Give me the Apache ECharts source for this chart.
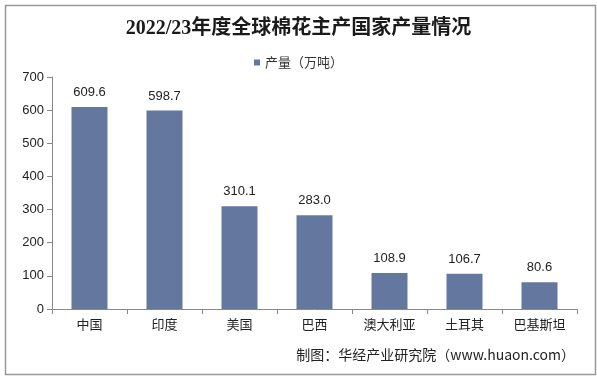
<!DOCTYPE html>
<html lang="zh">
<head>
  <meta charset="UTF-8">
  <title>2022/23年度全球棉花主产国家产量情况</title>
  <script src="https://cdn.jsdelivr.net/npm/echarts@6/dist/echarts.min.js"></script>
  <style>
    html, body { margin: 0; padding: 0; background: #fff; }
  </style>
</head>
<body>
<div id="main" style="width:597px;height:376px;"></div>
<script type="text/javascript">
  // 国家和产量（万吨）
  var countries = ['中国', '印度', '美国', '巴西', '澳大利亚', '土耳其', '巴基斯坦'];
  var output = [609.6, 598.7, 310.1, 283.0, 108.9, 106.7, 80.6];
  var yTicks = [0, 100, 200, 300, 400, 500, 600, 700];

  var myChart = echarts.init(document.getElementById('main'));

  var option = {
    backgroundColor: '#fff',
    animation: false,
    title: {
      text: '2022/23年度全球棉花主产国家产量情况',
      left: 'center',
      top: 14,
      textStyle: {
        fontFamily: '"Liberation Serif", "Noto Sans CJK SC", serif',
        fontSize: 20,
        fontWeight: 'bold',
        color: '#1a1a1a'
      }
    },
    legend: {
      data: ['产量（万吨）'],
      top: 51,
      left: 'center',
      itemWidth: 6,
      itemHeight: 6,
      itemGap: 4,
      icon: 'rect',
      textStyle: { fontSize: 13, color: '#333', fontFamily: '"Noto Sans CJK SC", sans-serif' }
    },
    grid: { left: 52, right: 20, top: 77, bottom: 67 },
    xAxis: {
      type: 'category',
      data: countries,
      axisLine: { lineStyle: { color: '#888' } },
      axisTick: { show: true, length: 5, alignWithLabel: false, lineStyle: { color: '#888' } },
      axisLabel: { color: '#222', fontSize: 13, margin: 9, fontFamily: '"Noto Sans CJK SC", sans-serif' }
    },
    yAxis: {
      type: 'value',
      min: yTicks[0],
      max: yTicks[yTicks.length - 1],
      interval: 100,
      axisLine: { show: true, lineStyle: { color: '#888' } },
      axisTick: { show: true, length: 5, lineStyle: { color: '#888' } },
      splitLine: { show: false },
      axisLabel: { color: '#222', fontSize: 13, margin: 8, fontFamily: '"Liberation Sans", Arial, sans-serif' }
    },
    series: [{
      name: '产量（万吨）',
      type: 'bar',
      data: output,
      barWidth: 36,
      itemStyle: { color: '#64789f' },
      label: {
        show: true,
        position: 'top',
        distance: 8,
        color: '#222',
        fontSize: 13,
        fontFamily: '"Liberation Sans", Arial, sans-serif',
        formatter: function (p) { return p.value.toFixed(1); }
      }
    }],
    graphic: [
      {
        type: 'rect',
        left: 3, top: 3,
        shape: { width: 590, height: 369 },
        style: { fill: 'none', stroke: '#999', lineWidth: 1.5 },
        silent: true
      },
      {
        type: 'text',
        right: 22, top: 348,
        style: {
          text: '制图：华经产业研究院（www.huaon.com）',
          fill: '#222',
          font: '14px "Noto Sans CJK SC", sans-serif'
        }
      }
    ]
  };

  myChart.setOption(option);
</script>
</body>
</html>
